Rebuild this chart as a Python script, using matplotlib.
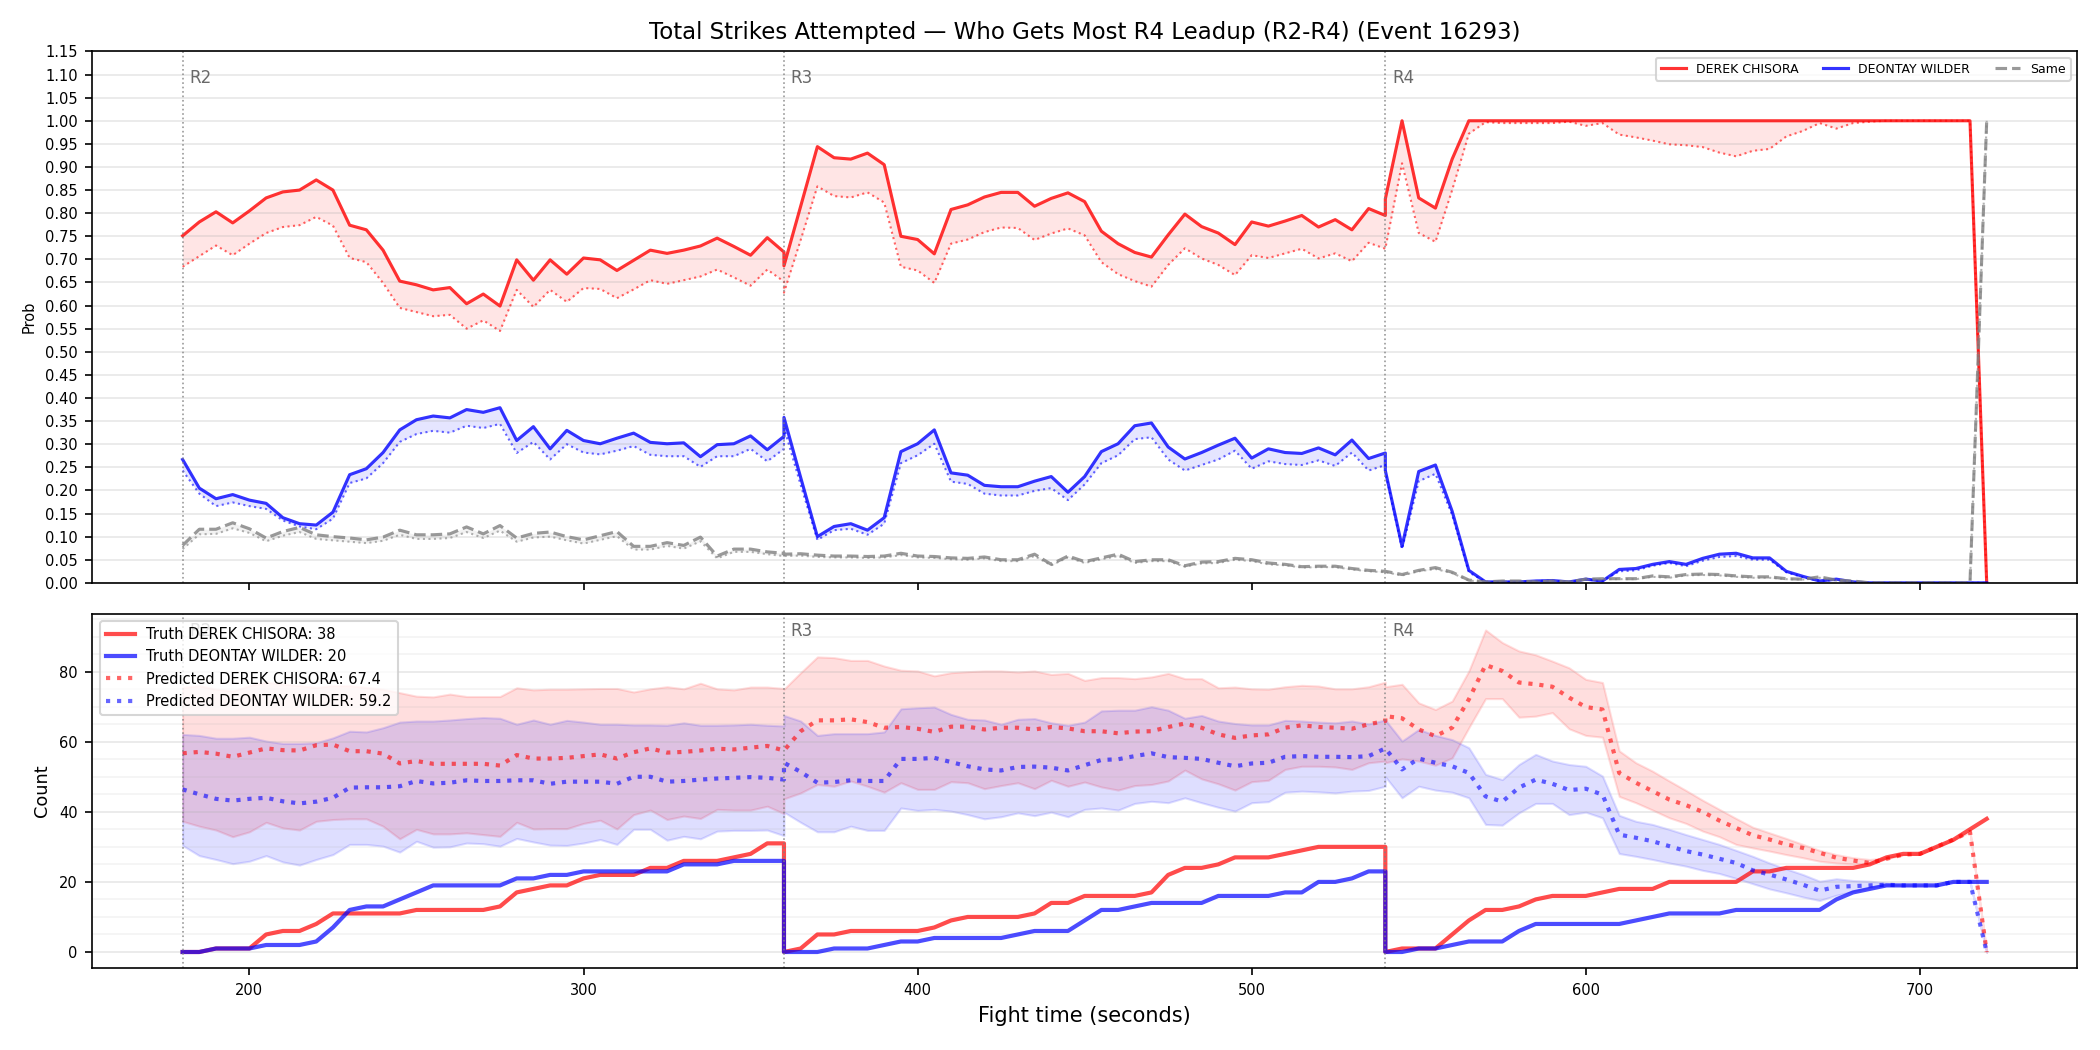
import numpy as np
import matplotlib
matplotlib.use("Agg")
import matplotlib.pyplot as plt
from matplotlib.ticker import MultipleLocator

fighter_a = "DEREK CHISORA"
fighter_b = "DEONTAY WILDER"
title = "Total Strikes Attempted \u2014 Who Gets Most R4 Leadup (R2-R4) (Event 16293)"
round_starts = [180, 360, 540]
round_names = ["R2", "R3", "R4"]

# time grid for each round (5 s steps, round boundaries repeated)
t_r2 = np.arange(180, 361, 5)
t_r3 = np.arange(360, 541, 5)
t_r4 = np.arange(540, 721, 5)

# ---- top panel: probability of leading ----
prob_a_r2 = [0.751, 0.781, 0.803, 0.779, 0.805, 0.833, 0.846, 0.850, 0.872, 0.850, 0.774, 0.764, 0.720,
             0.653, 0.645, 0.634, 0.639, 0.604, 0.625, 0.599, 0.699, 0.655, 0.699, 0.668, 0.703, 0.699,
             0.676, 0.698, 0.720, 0.713, 0.720, 0.729, 0.746, 0.728, 0.709, 0.747, 0.716]
prob_a_r3 = [0.686, 0.815, 0.944, 0.920, 0.917, 0.930, 0.905, 0.750, 0.743, 0.712, 0.808, 0.818, 0.835,
             0.845, 0.845, 0.815, 0.832, 0.844, 0.825, 0.761, 0.734, 0.715, 0.705, 0.753, 0.798, 0.771,
             0.757, 0.732, 0.781, 0.772, 0.783, 0.795, 0.770, 0.786, 0.764, 0.810, 0.795]
prob_a_r4 = [0.831, 1.0, 0.833, 0.811, 0.917, 1.0, 1.0, 1.0, 1.0, 1.0, 1.0, 1.0, 1.0, 1.0, 1.0, 1.0,
             1.0, 1.0, 1.0, 1.0, 1.0, 1.0, 1.0, 1.0, 1.0, 1.0, 1.0, 1.0, 1.0, 1.0, 1.0, 1.0, 1.0, 1.0,
             1.0, 1.0, 0.0]
prob_b_r2 = [0.267, 0.205, 0.182, 0.191, 0.179, 0.172, 0.141, 0.128, 0.125, 0.153, 0.234, 0.247, 0.282,
             0.331, 0.353, 0.361, 0.357, 0.375, 0.369, 0.379, 0.308, 0.338, 0.290, 0.330, 0.308, 0.301,
             0.313, 0.324, 0.304, 0.301, 0.303, 0.273, 0.299, 0.301, 0.318, 0.288, 0.317]
prob_b_r3 = [0.358, 0.228, 0.100, 0.122, 0.128, 0.114, 0.141, 0.284, 0.301, 0.331, 0.238, 0.233, 0.211,
             0.208, 0.208, 0.220, 0.230, 0.196, 0.230, 0.284, 0.301, 0.340, 0.346, 0.294, 0.268, 0.282,
             0.298, 0.313, 0.270, 0.290, 0.282, 0.280, 0.292, 0.277, 0.309, 0.269, 0.281]
prob_b_r4 = [0.243, 0.079, 0.241, 0.255, 0.155, 0.027, 0.002, 0.002, 0.002, 0.004, 0.005, 0.002, 0.008,
             0.004, 0.029, 0.031, 0.040, 0.046, 0.040, 0.053, 0.062, 0.064, 0.054, 0.054, 0.025, 0.014,
             0.004, 0.008, 0.002, 0.0, 0.0, 0.0, 0.0, 0.0, 0.0, 0.0, 0.0]
prob_s_r2 = [0.081, 0.116, 0.116, 0.130, 0.117, 0.097, 0.111, 0.120, 0.104, 0.100, 0.097, 0.093, 0.099,
             0.114, 0.104, 0.104, 0.106, 0.121, 0.106, 0.124, 0.097, 0.107, 0.110, 0.100, 0.093, 0.102,
             0.111, 0.079, 0.079, 0.087, 0.081, 0.099, 0.058, 0.073, 0.073, 0.067, 0.064]
prob_s_r3 = [0.062, 0.063, 0.060, 0.058, 0.058, 0.057, 0.058, 0.064, 0.058, 0.057, 0.054, 0.053, 0.056,
             0.050, 0.050, 0.062, 0.040, 0.058, 0.046, 0.054, 0.062, 0.046, 0.050, 0.050, 0.037, 0.045,
             0.046, 0.053, 0.050, 0.043, 0.040, 0.035, 0.036, 0.036, 0.031, 0.027, 0.025]
prob_s_r4 = [0.025, 0.018, 0.027, 0.033, 0.023, 0.006, 0.002, 0.004, 0.004, 0.002, 0.004, 0.002, 0.008,
             0.009, 0.009, 0.009, 0.015, 0.013, 0.018, 0.019, 0.018, 0.015, 0.013, 0.013, 0.009, 0.008,
             0.013, 0.006, 0.004, 0.0, 0.0, 0.0, 0.0, 0.0, 0.0, 0.0, 1.0]

# predicted probabilities
pprob_a_r2 = [0.684, 0.707, 0.730, 0.709, 0.734, 0.757, 0.770, 0.774, 0.792, 0.773, 0.703, 0.694, 0.649,
              0.595, 0.586, 0.577, 0.580, 0.550, 0.568, 0.545, 0.634, 0.597, 0.634, 0.608, 0.638, 0.636,
              0.616, 0.635, 0.655, 0.647, 0.655, 0.663, 0.678, 0.661, 0.643, 0.678, 0.652]
pprob_a_r3 = [0.628, 0.742, 0.858, 0.837, 0.834, 0.845, 0.823, 0.684, 0.676, 0.649, 0.734, 0.743, 0.759,
              0.769, 0.768, 0.742, 0.756, 0.767, 0.752, 0.694, 0.668, 0.653, 0.641, 0.688, 0.724, 0.702,
              0.688, 0.666, 0.709, 0.703, 0.713, 0.723, 0.702, 0.713, 0.696, 0.736, 0.723]
pprob_a_r4 = [0.723, 0.908, 0.757, 0.738, 0.850, 0.972, 0.997, 0.995, 0.995, 0.995, 0.995, 0.998, 0.989,
              0.995, 0.970, 0.964, 0.957, 0.949, 0.947, 0.943, 0.931, 0.923, 0.935, 0.939, 0.966, 0.978,
              0.995, 0.983, 0.995, 0.998, 1.0, 1.0, 1.0, 1.0, 1.0, 1.0, 0.0]
pprob_b_r2 = [0.243, 0.193, 0.166, 0.174, 0.166, 0.160, 0.135, 0.122, 0.116, 0.139, 0.216, 0.226, 0.259,
              0.305, 0.322, 0.329, 0.325, 0.340, 0.335, 0.344, 0.281, 0.305, 0.267, 0.300, 0.282, 0.278,
              0.286, 0.296, 0.277, 0.274, 0.274, 0.251, 0.274, 0.274, 0.290, 0.263, 0.290]
pprob_b_r3 = [0.336, 0.212, 0.093, 0.114, 0.117, 0.104, 0.128, 0.259, 0.276, 0.301, 0.219, 0.214, 0.193,
              0.189, 0.189, 0.199, 0.205, 0.179, 0.213, 0.259, 0.276, 0.311, 0.315, 0.267, 0.243, 0.255,
              0.267, 0.286, 0.247, 0.263, 0.257, 0.255, 0.265, 0.253, 0.282, 0.243, 0.255]
pprob_b_r4 = [0.240, 0.073, 0.220, 0.236, 0.147, 0.023, 0.002, 0.002, 0.002, 0.004, 0.005, 0.002, 0.007,
              0.004, 0.025, 0.027, 0.037, 0.043, 0.036, 0.048, 0.056, 0.058, 0.050, 0.050, 0.023, 0.012,
              0.004, 0.006, 0.002, 0.0, 0.0, 0.0, 0.0, 0.0, 0.0, 0.0, 0.0]
pprob_s_r2 = [0.073, 0.105, 0.106, 0.118, 0.108, 0.090, 0.102, 0.110, 0.095, 0.092, 0.089, 0.086, 0.091,
              0.104, 0.095, 0.095, 0.097, 0.110, 0.097, 0.113, 0.089, 0.098, 0.100, 0.092, 0.085, 0.093,
              0.101, 0.072, 0.072, 0.080, 0.074, 0.090, 0.053, 0.067, 0.067, 0.062, 0.058]
pprob_s_r3 = [0.058, 0.059, 0.056, 0.055, 0.055, 0.054, 0.055, 0.060, 0.055, 0.054, 0.051, 0.050, 0.053,
              0.047, 0.047, 0.058, 0.038, 0.055, 0.043, 0.051, 0.058, 0.043, 0.047, 0.047, 0.035, 0.042,
              0.043, 0.050, 0.047, 0.040, 0.038, 0.033, 0.034, 0.034, 0.029, 0.025, 0.023]
pprob_s_r4 = [0.023, 0.016, 0.025, 0.030, 0.021, 0.005, 0.002, 0.003, 0.003, 0.002, 0.003, 0.002, 0.007,
              0.008, 0.008, 0.008, 0.013, 0.011, 0.016, 0.017, 0.016, 0.013, 0.011, 0.011, 0.008, 0.007,
              0.011, 0.005, 0.003, 0.0, 0.0, 0.0, 0.0, 0.0, 0.0, 0.0, 1.0]

# ---- bottom panel: strike counts ----
count_a_r2 = [0, 0, 1, 1, 1, 5, 6, 6, 8, 11, 11, 11, 11, 11, 12, 12, 12, 12, 12, 13, 17, 18, 19, 19, 21,
              22, 22, 22, 24, 24, 26, 26, 26, 27, 28, 31, 31]
count_a_r3 = [0, 1, 5, 5, 6, 6, 6, 6, 6, 7, 9, 10, 10, 10, 10, 11, 14, 14, 16, 16, 16, 16, 17, 22, 24,
              24, 25, 27, 27, 27, 28, 29, 30, 30, 30, 30, 30]
count_a_r4 = [0, 1, 1, 1, 5, 9, 12, 12, 13, 15, 16, 16, 16, 17, 18, 18, 18, 20, 20, 20, 20, 20, 23, 23,
              24, 24, 24, 24, 24, 25, 27, 28, 28, 30, 32, 35, 38]
count_b_r2 = [0, 0, 1, 1, 1, 2, 2, 2, 3, 7, 12, 13, 13, 15, 17, 19, 19, 19, 19, 19, 21, 21, 22, 22, 23,
              23, 23, 23, 23, 23, 25, 25, 25, 26, 26, 26, 26]
count_b_r3 = [0, 0, 0, 1, 1, 1, 2, 3, 3, 4, 4, 4, 4, 4, 5, 6, 6, 6, 9, 12, 12, 13, 14, 14, 14, 14, 16,
              16, 16, 16, 17, 17, 20, 20, 21, 23, 23]
count_b_r4 = [0, 0, 1, 1, 2, 3, 3, 3, 6, 8, 8, 8, 8, 8, 8, 9, 10, 11, 11, 11, 11, 12, 12, 12, 12, 12,
              12, 15, 17, 18, 19, 19, 19, 19, 20, 20, 20]

pred_a_r2 = [56.7, 57.1, 56.6, 55.7, 56.9, 58.1, 57.6, 57.5, 59.0, 59.2, 57.3, 57.3, 56.6, 53.8, 54.5,
             53.7, 53.7, 53.7, 53.7, 53.2, 56.2, 55.2, 55.2, 55.4, 55.9, 56.4, 55.2, 57.0, 58.1, 56.9,
             57.1, 57.5, 58.0, 57.8, 58.3, 58.8, 57.5]
pred_a_r3 = [57.5, 63.0, 66.1, 66.1, 66.4, 65.6, 64.0, 64.2, 63.7, 62.8, 64.3, 64.3, 63.5, 64.0, 64.0,
             63.5, 64.2, 63.8, 63.0, 63.0, 62.4, 62.9, 63.0, 64.2, 65.2, 64.0, 62.1, 61.1, 61.8, 62.1,
             64.0, 64.7, 64.2, 64.0, 63.7, 65.0, 65.9]
pred_a_r4 = [67.3, 66.7, 63.5, 61.6, 64.0, 72.1, 81.9, 80.2, 76.9, 76.4, 75.7, 72.6, 69.9, 69.2, 51.1,
             48.3, 45.9, 43.5, 41.9, 40.0, 37.5, 35.4, 33.3, 32.1, 30.7, 29.7, 28.3, 26.9, 26.1, 25.4,
             26.6, 27.8, 28.0, 30.0, 32.1, 34.3, 0.0]
hi_a_r2 = [75.5, 76.0, 75.0, 74.5, 76.0, 77.0, 76.5, 76.0, 75.5, 76.0, 76.0, 75.5, 75.0, 74.0, 73.0,
           72.8, 73.6, 72.9, 72.9, 72.9, 75.4, 74.8, 75.0, 75.0, 75.1, 75.2, 75.2, 74.2, 75.1, 75.7,
           75.1, 76.7, 75.1, 74.8, 75.6, 75.6, 75.2]
hi_a_r3 = [75.0, 79.7, 84.2, 84.0, 83.2, 83.2, 81.6, 80.4, 80.2, 78.8, 79.7, 80.0, 80.2, 80.2, 79.9,
           80.2, 79.2, 79.5, 77.5, 78.3, 78.3, 78.0, 78.5, 79.5, 78.0, 78.0, 75.4, 75.6, 75.1, 75.0,
           75.7, 76.1, 75.9, 75.1, 75.1, 75.7, 77.0]
hi_a_r4 = [75.7, 76.4, 71.1, 69.2, 71.6, 80.2, 91.9, 88.3, 85.9, 84.8, 83.0, 81.1, 77.8, 76.9, 57.4,
           54.0, 51.6, 48.8, 46.1, 43.3, 40.7, 38.1, 35.6, 34.0, 32.4, 30.7, 29.0, 27.8, 26.9, 26.4,
           26.9, 27.8, 28.0, 30.0, 32.1, 34.3, 0.0]
lo_a_r2 = [37.3, 35.9, 34.8, 32.9, 34.3, 37.0, 35.4, 34.8, 37.3, 37.8, 38.0, 38.0, 35.9, 32.3, 35.0,
           33.7, 33.7, 34.0, 33.5, 33.0, 37.0, 35.1, 35.2, 35.2, 36.7, 37.6, 35.1, 39.2, 40.5, 37.8,
           38.8, 38.1, 40.7, 40.5, 40.5, 41.6, 39.5]
lo_a_r3 = [43.7, 45.4, 47.8, 47.3, 48.8, 47.3, 45.6, 48.3, 46.4, 46.4, 48.6, 48.3, 46.6, 47.5, 48.3,
           46.6, 49.0, 47.3, 48.5, 47.1, 46.2, 47.5, 47.8, 48.8, 51.9, 49.4, 48.0, 46.2, 48.6, 49.0,
           52.1, 53.0, 53.0, 52.8, 52.1, 54.0, 54.5]
lo_a_r4 = [54.0, 55.1, 54.5, 53.3, 55.4, 64.0, 72.3, 72.3, 67.0, 67.3, 68.3, 63.7, 61.8, 61.3, 44.4,
           42.6, 40.5, 38.3, 36.7, 34.5, 32.9, 30.7, 29.7, 28.8, 27.8, 26.9, 25.9, 25.4, 25.1, 25.2,
           26.6, 27.8, 28.0, 30.0, 32.1, 34.3, 0.0]

pred_b_r2 = [46.4, 45.0, 43.7, 43.2, 43.7, 44.0, 43.0, 42.4, 42.9, 44.0, 46.9, 47.0, 47.0, 47.3, 48.8,
             48.1, 48.3, 49.0, 48.8, 48.8, 49.0, 49.0, 48.0, 48.6, 48.6, 48.6, 48.0, 50.0, 50.0, 48.6,
             48.8, 49.2, 49.5, 49.7, 49.9, 49.7, 49.2]
pred_b_r3 = [54.0, 51.4, 48.3, 48.5, 49.0, 48.8, 48.8, 55.1, 55.1, 55.4, 54.2, 53.0, 52.1, 51.8, 52.8,
             52.9, 52.6, 51.8, 53.3, 54.8, 55.0, 55.9, 56.7, 55.6, 55.4, 55.1, 54.0, 53.0, 53.8, 54.0,
             55.7, 55.9, 55.7, 55.7, 55.6, 55.9, 58.1]
pred_b_r4 = [58.1, 52.1, 55.2, 54.0, 53.0, 51.1, 44.4, 42.9, 46.9, 49.2, 48.0, 46.2, 46.6, 44.9, 33.5,
             32.6, 31.6, 30.2, 28.8, 27.8, 26.6, 25.4, 23.3, 22.1, 20.7, 19.2, 17.5, 18.6, 18.8, 19.0,
             19.2, 19.0, 19.0, 19.0, 20.0, 20.0, 0.0]
hi_b_r2 = [62.1, 61.8, 61.0, 61.0, 61.3, 60.2, 59.5, 59.5, 59.7, 61.1, 63.0, 62.8, 64.0, 65.6, 65.9,
           65.9, 66.2, 66.6, 66.9, 66.7, 65.0, 66.2, 65.0, 66.1, 65.6, 65.0, 65.0, 64.8, 64.8, 64.7,
           65.4, 64.7, 64.7, 64.8, 65.0, 64.7, 64.5]
hi_b_r3 = [67.5, 65.9, 61.8, 62.3, 62.3, 62.3, 62.8, 69.4, 69.7, 69.9, 67.8, 66.4, 66.2, 65.0, 66.4,
           66.6, 65.4, 64.7, 65.6, 68.8, 69.0, 69.0, 70.0, 69.0, 66.7, 67.5, 65.9, 65.2, 64.8, 64.8,
           66.1, 65.9, 65.6, 65.4, 65.9, 65.1, 66.2]
hi_b_r4 = [66.2, 60.2, 63.5, 61.8, 60.6, 58.3, 50.7, 49.2, 53.5, 56.4, 54.5, 53.5, 53.0, 50.2, 39.0,
           37.3, 36.4, 35.0, 33.5, 32.1, 30.7, 29.0, 27.3, 25.4, 23.7, 22.1, 20.2, 20.9, 20.4, 20.2,
           19.7, 19.0, 19.0, 19.0, 20.0, 20.0, 0.0]
lo_b_r2 = [30.4, 27.5, 26.4, 25.2, 25.9, 27.5, 25.7, 24.8, 26.4, 27.8, 30.7, 30.7, 30.2, 28.5, 31.6,
           29.9, 30.0, 31.1, 30.9, 30.2, 32.4, 31.4, 30.5, 30.4, 31.1, 32.1, 30.7, 35.0, 35.0, 31.9,
           33.0, 32.3, 34.5, 34.7, 34.7, 34.8, 33.2]
lo_b_r3 = [39.9, 37.0, 34.3, 34.3, 35.9, 34.7, 34.7, 41.1, 40.4, 40.7, 40.2, 39.2, 38.0, 38.6, 39.7,
           38.9, 39.9, 38.6, 40.7, 41.1, 40.5, 42.4, 43.0, 42.6, 44.0, 42.6, 41.3, 40.2, 42.6, 42.9,
           45.6, 45.9, 45.7, 45.4, 45.9, 46.1, 47.3]
lo_b_r4 = [50.0, 44.0, 47.3, 46.2, 45.6, 44.0, 36.4, 36.2, 39.7, 42.4, 42.4, 39.2, 39.9, 38.3, 28.1,
           27.3, 26.4, 25.4, 24.5, 23.3, 22.4, 21.0, 19.5, 18.0, 16.9, 15.7, 14.7, 16.2, 17.3, 18.3,
           19.0, 19.0, 19.0, 19.0, 20.0, 20.0, 0.0]

final_truth_a, final_truth_b = 38, 20
final_pred_a, final_pred_b = 67.4, 59.2


def join(r2, r3, r4):
    return np.concatenate([r2, r3, r4])


t = join(t_r2, t_r3, t_r4)

fig, (ax1, ax2) = plt.subplots(2, 1, figsize=(14, 7), sharex=True,
                               gridspec_kw={"height_ratios": [3, 2]})
fig.subplots_adjust(left=0.044, right=0.989, top=0.951, bottom=0.078, hspace=0.07)

# top panel
top_series = [
    (fighter_a, "red", "-", join(prob_a_r2, prob_a_r3, prob_a_r4), join(pprob_a_r2, pprob_a_r3, pprob_a_r4)),
    (fighter_b, "blue", "-", join(prob_b_r2, prob_b_r3, prob_b_r4), join(pprob_b_r2, pprob_b_r3, pprob_b_r4)),
    ("Same", "gray", "--", join(prob_s_r2, prob_s_r3, prob_s_r4), join(pprob_s_r2, pprob_s_r3, pprob_s_r4)),
]
for label, col, ls, truth, pred in top_series:
    ax1.plot(t, truth, color=col, ls=ls, lw=1.5, alpha=0.8, label=label)
    ax1.plot(t, pred, color=col, ls=":", lw=1, alpha=0.6)
    ax1.fill_between(t, pred, truth, color=col, alpha=0.1, lw=0)

ax1.set_ylim(0, 1.15)
ax1.yaxis.set_major_locator(MultipleLocator(0.05))
ax1.grid(axis="y", alpha=0.3)
ax1.set_ylabel("Prob", fontsize=7)
ax1.tick_params(labelsize=7)
ax1.set_title(title, fontsize=11)
ax1.legend(loc="upper right", ncol=3, fontsize=6)

# bottom panel
ax2.fill_between(t, join(lo_a_r2, lo_a_r3, lo_a_r4), join(hi_a_r2, hi_a_r3, hi_a_r4),
                 color="red", alpha=0.13)
ax2.fill_between(t, join(lo_b_r2, lo_b_r3, lo_b_r4), join(hi_b_r2, hi_b_r3, hi_b_r4),
                 color="blue", alpha=0.13)
ax2.plot(t, join(count_a_r2, count_a_r3, count_a_r4), color="red", lw=2, alpha=0.7,
         label=f"Truth {fighter_a}: {final_truth_a}")
ax2.plot(t, join(count_b_r2, count_b_r3, count_b_r4), color="blue", lw=2, alpha=0.7,
         label=f"Truth {fighter_b}: {final_truth_b}")
ax2.plot(t, join(pred_a_r2, pred_a_r3, pred_a_r4), color="red", ls=":", lw=2, alpha=0.6,
         label=f"Predicted {fighter_a}: {final_pred_a}")
ax2.plot(t, join(pred_b_r2, pred_b_r3, pred_b_r4), color="blue", ls=":", lw=2, alpha=0.6,
         label=f"Predicted {fighter_b}: {final_pred_b}")

ax2.yaxis.set_minor_locator(MultipleLocator(5))
ax2.grid(axis="y", which="major", alpha=0.3)
ax2.grid(axis="y", which="minor", alpha=0.15)
ax2.tick_params(which="minor", length=0)
ax2.tick_params(labelsize=7)
ax2.set_ylabel("Count", fontsize=8.5)
ax2.set_xlabel("Fight time (seconds)", fontsize=10)
ax2.legend(loc="upper left", fontsize=7)

for ax in (ax1, ax2):
    ytop = ax.get_ylim()[1]
    for x0, name in zip(round_starts, round_names):
        ax.axvline(x0, color="gray", ls=":", lw=0.8, alpha=0.8)
        ax.text(x0 + 2, ytop * 0.95, name, color="dimgray", fontsize=8, va="center")

fig.savefig("out.png", dpi=150)
